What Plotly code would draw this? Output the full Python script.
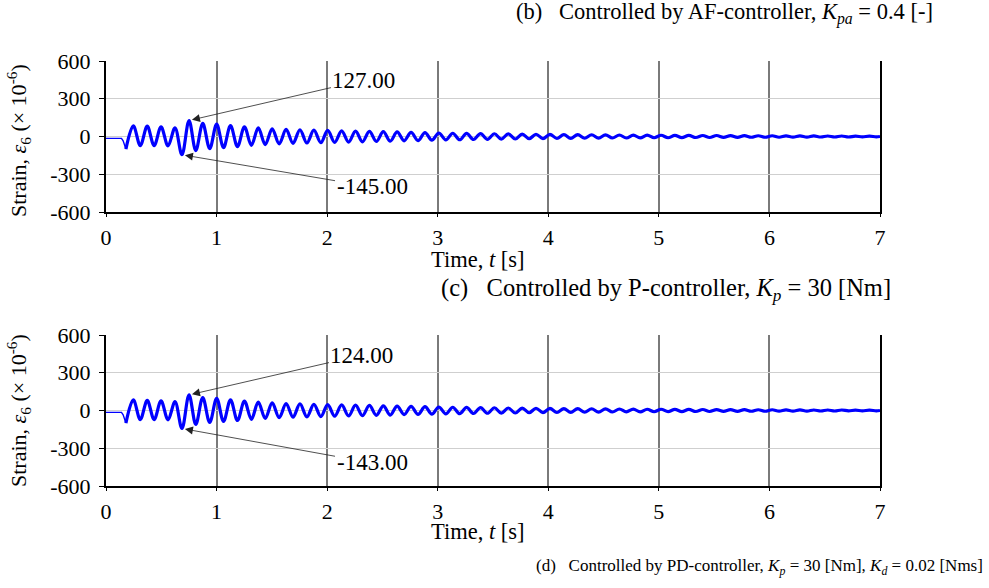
import plotly.graph_objects as go

# ---------------- data ----------------
# start of the record, before the oscillation builds up
t_pre = [0.0, 0.14, 0.155, 0.18]
b_pre = [-15, -15, -35, -100]   # (b) AF-controller
c_pre = [-15, -15, -35, -100]   # (c) P-controller

# times of successive extrema (peak, trough, peak, ...)
t_ext = [0.247, 0.310, 0.373, 0.435, 0.498, 0.561, 0.624, 0.687, 0.751, 0.812,
         0.875, 0.938, 1.001, 1.063, 1.126, 1.189, 1.252, 1.315, 1.377, 1.440,
         1.503, 1.566, 1.629, 1.691, 1.754, 1.817, 1.880, 1.943, 2.005, 2.068,
         2.131, 2.194, 2.257, 2.319, 2.382, 2.445, 2.508, 2.571, 2.633, 2.696,
         2.759, 2.822, 2.885, 2.947, 3.010, 3.073, 3.136, 3.199, 3.261, 3.324,
         3.387, 3.450, 3.513, 3.575, 3.638, 3.701, 3.764, 3.827, 3.889, 3.952,
         4.015, 4.078, 4.141, 4.203, 4.266, 4.329, 4.392, 4.455, 4.517, 4.580,
         4.643, 4.706, 4.769, 4.831, 4.894, 4.957, 5.020, 5.083, 5.145, 5.208,
         5.271, 5.334, 5.397, 5.459, 5.522, 5.585, 5.648, 5.711, 5.773, 5.836,
         5.899, 5.962, 6.025, 6.087, 6.150, 6.213, 6.276, 6.339, 6.401, 6.464,
         6.527, 6.590, 6.653, 6.715, 6.778, 6.841, 6.904, 6.967]

b_ext = [85, -72, 82, -72, 76, -75, 68, -145, 127, -112,
         104, -96, 98, -88, 86, -80, 76, -70, 68, -64,
         60, -58, 56, -54, 53, -51, 50, -49, 48, -46,
         45, -44, 43, -42, 40, -39, 38, -37, 36, -34,
         33, -32, 31, -29, 28, -27, 26, -26, 25, -24,
         23, -23, 22, -21, 21, -20, 19, -18, 18, -17,
         17, -16, 16, -15, 15, -14, 14, -13, 13, -12,
         12, -12, 11, -11, 11, -10, 10, -10, 9, -9,
         9, -8, 8, -8, 8, -7, 7, -7, 7, -6,
         6, -6, 6, -6, 5, -5, 5, -5, 5, -4,
         4, -4, 4, -4, 3, -3, 3, -3]

c_ext = [85, -72, 80, -72, 76, -74, 70, -143, 124, -110,
         102, -95, 96, -87, 85, -79, 75, -70, 67, -63,
         60, -57, 55, -53, 52, -50, 49, -48, 47, -45,
         44, -43, 42, -41, 40, -38, 37, -36, 35, -33,
         32, -31, 30, -29, 28, -27, 26, -25, 25, -24,
         23, -22, 22, -21, 20, -20, 19, -18, 18, -17,
         17, -16, 15, -15, 15, -14, 14, -13, 13, -12,
         12, -11, 11, -11, 10, -10, 10, -9, 9, -9,
         9, -8, 8, -8, 7, -7, 7, -7, 7, -6,
         6, -6, 6, -5, 5, -5, 5, -5, 4, -4,
         4, -4, 4, -3, 3, -3, 3, -3]

t_end = 7.0
b_end = 0
c_end = 0

peak_idx = 8     # annotated maximum
trough_idx = 7   # annotated minimum
b_labels = ["127.00", "-145.00"]
c_labels = ["124.00", "-143.00"]

x_ticks = [0, 1, 2, 3, 4, 5, 6, 7]
y_ticks = [-600, -300, 0, 300, 600]
y_ticktext = ["-600", "-300", "0", "300", "600"]

title_b = "(b)\u00a0\u00a0\u00a0Controlled by AF-controller, <i>K</i><sub><i>pa</i></sub> = 0.4 [-]"
title_c = "(c)\u00a0\u00a0\u00a0Controlled by P-controller, <i>K</i><sub><i>p</i></sub> = 30 [Nm]"
title_d = ("(d)\u00a0\u00a0\u00a0Controlled by PD-controller, <i>K</i><sub><i>p</i></sub> = 30 [Nm], "
           "<i>K</i><sub><i>d</i></sub> = 0.02 [Nms]")
x_label = "Time, <i>t</i> [s]"
y_label = "Strain, <i>ε</i><sub>6</sub> (× 10<sup>-6</sup>)"

# ---------------- figure ----------------
BLUE = "#0000ff"
fig = go.Figure()

for xa, ya, pre, ext, end in [("x", "y", b_pre, b_ext, b_end),
                              ("x2", "y2", c_pre, c_ext, c_end)]:
    fig.add_trace(go.Scatter(x=t_pre, y=pre, mode="lines", xaxis=xa, yaxis=ya,
                             line=dict(color=BLUE, width=1.4), hoverinfo="skip"))
    fig.add_trace(go.Scatter(x=[t_pre[-1]] + t_ext + [t_end],
                             y=[pre[-1]] + ext + [end],
                             mode="lines", xaxis=xa, yaxis=ya,
                             line=dict(color=BLUE, width=3.2, shape="spline"),
                             hoverinfo="skip"))

FONT = "Liberation Serif, Times New Roman, serif"
xcommon = dict(range=[0, 7], tickvals=x_ticks, showgrid=True, gridcolor="#7a7a7a",
               gridwidth=1.6, showline=True, linecolor="black", linewidth=1.5,
               ticks="outside", ticklen=3, tickcolor="black", zeroline=False,
               ticklabelstandoff=2, tickfont=dict(size=22), fixedrange=True)
ycommon = dict(range=[-600, 600], tickvals=y_ticks, ticktext=y_ticktext,
               showgrid=True, gridcolor="#cfcfcf", gridwidth=1, showline=True,
               mirror=True, linecolor="black", linewidth=2, ticks="outside",
               ticklen=5, tickcolor="black", zeroline=False, ticklabelstandoff=4,
               tickfont=dict(size=22), fixedrange=True)

ytop = (486 - 212) / 425
ybot = 151 / 425
fig.update_layout(
    width=989, height=588,
    margin=dict(l=106, r=109, t=61, b=102),
    plot_bgcolor="white", paper_bgcolor="white", showlegend=False,
    font=dict(family=FONT, size=22, color="black"),
    xaxis=dict(xcommon, anchor="y"),
    yaxis=dict(ycommon, domain=[ytop, 1], anchor="x"),
    xaxis2=dict(xcommon, anchor="y2"),
    yaxis2=dict(ycommon, domain=[0, ybot], anchor="x2"),
)

ann = []
# captions and axis labels (paper coordinates)
ann.append(dict(text=title_b, xref="paper", yref="paper", x=1.0711, y=1.112,
                xanchor="right", yanchor="middle", showarrow=False,
                font=dict(size=22.5)))
ann.append(dict(text=title_c, xref="paper", yref="paper", x=1.0168, y=0.4635,
                xanchor="right", yanchor="middle", showarrow=False,
                font=dict(size=24.5)))
ann.append(dict(text=title_d, xref="paper", yref="paper", x=1.1357, y=-0.1906,
                xanchor="right", yanchor="middle", showarrow=False,
                font=dict(size=17)))
for yy in [0.534, -0.108]:
    ann.append(dict(text=x_label, xref="paper", yref="paper", x=0.4806, y=yy,
                    xanchor="center", yanchor="middle", showarrow=False,
                    font=dict(size=22.5)))
for yy in [0.814, 0.1788]:
    ann.append(dict(text=y_label, xref="paper", yref="paper", x=-0.1137, y=yy,
                    xanchor="center", yanchor="middle", textangle=-90,
                    showarrow=False, font=dict(size=22)))

# arrow callouts pointing at the extremes
arrow_style = dict(showarrow=True, arrowhead=2, arrowsize=2.0, arrowwidth=0.8,
                   arrowcolor="#222222", standoff=3, font=dict(size=23))
callouts = [
    ("x", "y", b_ext, b_labels, (2.333, 449), (2.406, -401)),
    ("x2", "y2", c_ext, c_labels, (2.315, 441), (2.406, -417)),
]
for xa, ya, ext, labels, pos_hi, pos_lo in callouts:
    ann.append(dict(arrow_style, text=labels[0], xref=xa, yref=ya, axref=xa, ayref=ya,
                    x=t_ext[peak_idx], y=ext[peak_idx], ax=pos_hi[0], ay=pos_hi[1]))
    ann.append(dict(arrow_style, text=labels[1], xref=xa, yref=ya, axref=xa, ayref=ya,
                    x=t_ext[trough_idx], y=ext[trough_idx], ax=pos_lo[0], ay=pos_lo[1]))

fig.update_layout(annotations=ann)
fig.write_html("out.html", config={"displayModeBar": False},
               post_script="document.body.style.margin='0';document.body.style.padding='0';")
